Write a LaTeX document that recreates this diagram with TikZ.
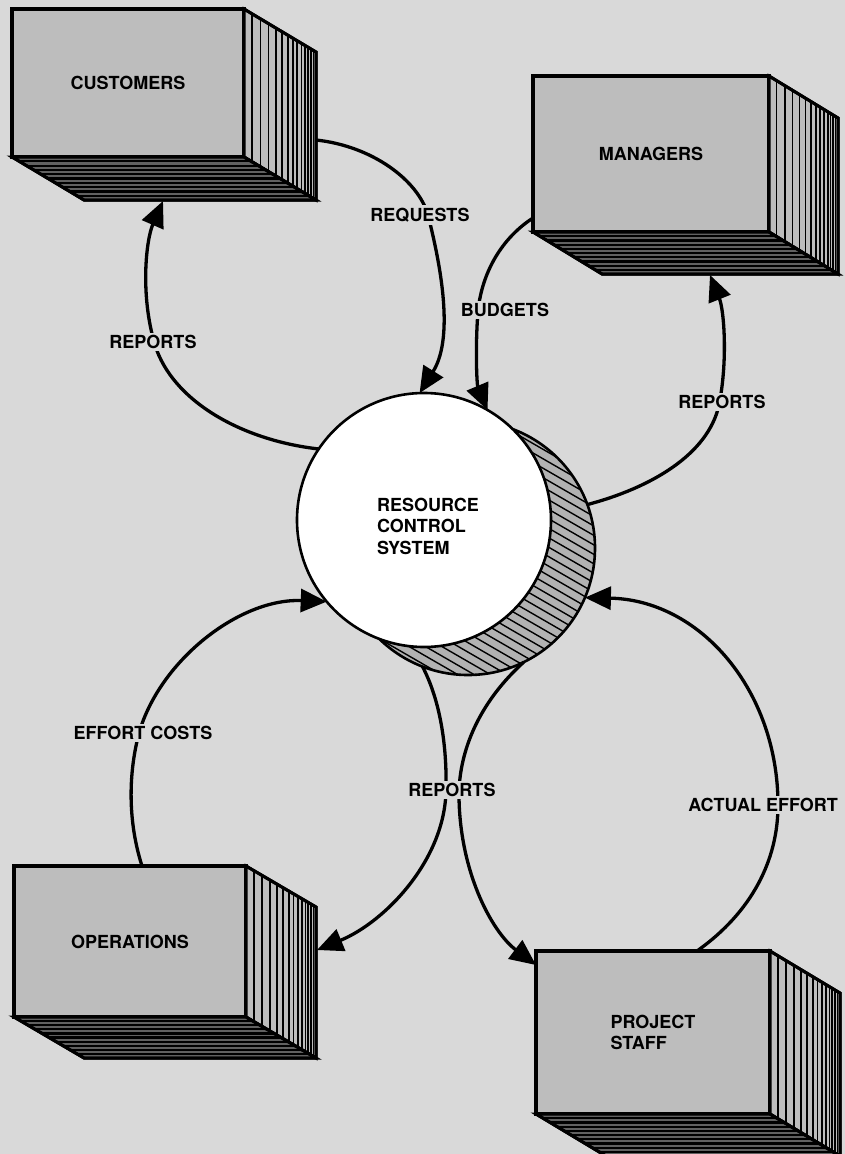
\documentclass[tikz,border=0pt]{standalone}
\usepackage{fontspec}
\setmainfont{TeX Gyre Heros}
\usetikzlibrary{arrows.meta,calc}
\definecolor{bgc}{gray}{0.85}
\definecolor{frontc}{gray}{0.74}
\definecolor{sidec}{gray}{0.74}
\definecolor{bottomc}{gray}{0.38}
\definecolor{cresc}{gray}{0.70}
\tikzset{
  entity/.style={draw, line width=3.2pt, fill=frontc, inner sep=0pt, outer sep=0pt,
    font=\bfseries\fontsize{18}{21.5}\selectfont, align=left},
  sideface/.style={draw, line width=3pt, fill=sidec, line join=miter},
  bottomface/.style={draw, line width=3pt, fill=bottomc, line join=miter},
  vstripe/.style={line width=1.7pt, black},
  hstripe/.style={line width=2.2pt, black},
  proc/.style={circle, draw, line width=2.6pt, fill=white, inner sep=0pt, outer sep=0pt,
    minimum size=254pt, font=\bfseries\fontsize{18}{21.5}\selectfont, align=left},
  shadowring/.style={circle, draw, line width=2.6pt, inner sep=0pt, outer sep=0pt, minimum size=254pt},
  flow/.style={line width=3.3pt, -{Triangle[length=26pt,width=23pt]}},
  flowlabel/.style={fill=bgc, inner sep=2.5pt, font=\bfseries\fontsize{18}{21.5}\selectfont}
}
\newcommand{\stackfaces}[3]{%
  \filldraw[sideface] (#1.north east) -- ++(#2,#3) -- ($(#1.south east)+(#2,#3)$) -- (#1.south east) -- cycle;
  \foreach \f in {0.11,0.23,0.34,0.44,0.53,0.61,0.68,0.74,0.80,0.85,0.89,0.93,0.965}
    \draw[vstripe] ($(#1.north east)+(\f*#2,\f*#3)$) -- ($(#1.south east)+(\f*#2,\f*#3)$);
  \filldraw[bottomface] (#1.south west) -- (#1.south east) -- ($(#1.south east)+(#2,#3)$) -- ($(#1.south west)+(#2,#3)$) -- cycle;
  \foreach \g in {0.1,0.2,0.3,0.4,0.5,0.6,0.7,0.8,0.9}
    \draw[hstripe] ($(#1.south west)+(\g*#2,\g*#3)$) -- ($(#1.south east)+(\g*#2,\g*#3)$);
  \draw[line width=3pt, line join=miter] (#1.south west) -- ++(#2,#3) -- ($(#1.south east)+(#2,#3)$) -- ($(#1.north east)+(#2,#3)$) -- (#1.north east);
  \draw[line width=3pt] (#1.south east) -- ++(#2,#3);
}
\begin{document}
\begin{tikzpicture}[x=1pt,y=-1pt]
\useasboundingbox (0,0) rectangle (845,1154);
\fill[bgc] (0,0) rectangle (845,1154);

% external entities
\node[entity, minimum width=232pt, minimum height=148pt] (cust) at (128,83) {CUSTOMERS};
\stackfaces{cust}{72}{43}
\node[entity, minimum width=236pt, minimum height=156pt] (mgr) at (651,154) {MANAGERS};
\stackfaces{mgr}{69}{42}
\node[entity, minimum width=232pt, minimum height=151pt] (ops) at (130,941.5) {OPERATIONS};
\stackfaces{ops}{70}{41}
\node[entity, minimum width=234pt, minimum height=163pt] (ps) at (653,1032.5) {PROJECT\\STAFF};
\stackfaces{ps}{70}{42}

% process with shadow crescent
\fill[cresc] (468,548) circle[radius=127];
\begin{scope}
  \clip (468,548) circle[radius=127];
  \foreach \k in {-24,...,24}
    \draw[line width=1.4pt] ($(468,548)+(\k*-4.1,\k*7.1)+(-260,-150)$) -- ($(468,548)+(\k*-4.1,\k*7.1)+(260,150)$);
\end{scope}
\node[shadowring] (shadow) at (468,548) {};
\node[proc] (rcs) at (424,520) {\raisebox{-10.5pt}[0pt][0pt]{\makebox[126pt][r]{\parbox{110pt}{\raggedright RESOURCE\\CONTROL\\SYSTEM}}}};

% connector end points on the entities
\coordinate (reqS) at ($(cust.north east)+(72,131)$);
\coordinate (custTip) at ($(cust.south west)+(151,44)$);
\coordinate (budS) at ($(mgr.north west)+(0,142)$);
\coordinate (mgrTip) at ($(mgr.south west)+(177,43)$);
\coordinate (opsS) at ($(ops.north west)+(128,0)$);
\coordinate (opsTip) at ($(ops.north east)+(71,84)$);
\coordinate (psTip) at ($(ps.north west)+(0,14)$);
\coordinate (psS) at ($(ps.north west)+(161,0)$);

% flows
\draw[flow] (reqS) .. controls (372,146) and (418,180) .. (428,215) .. controls (438,255) and (456,335) .. (rcs.92);
\draw[flow] (rcs.146) .. controls (240,440) and (172,400) .. (155,345) .. controls (140,295) and (146,240) .. (custTip);
\draw[flow] (budS) .. controls (502,238) and (482,272) .. (478,311) .. controls (475,350) and (477,385) .. (rcs.60);
\draw[flow] (shadow.20) .. controls (650,488) and (708,455) .. (719,405) .. controls (728,360) and (724,310) .. (mgrTip);
\draw[flow] (opsS) .. controls (128,822) and (128,775) .. (139,733) .. controls (160,660) and (240,598) .. (rcs.220);
\draw[flow] (shadow.249) .. controls (440,700) and (447,745) .. (446,790) .. controls (445,860) and (385,922) .. (opsTip);
\draw[flow] (shadow.296) .. controls (482,700) and (461,745) .. (459,790) .. controls (458,870) and (492,932) .. (psTip);
\draw[flow] (psS) .. controls (752,912) and (778,860) .. (778,805) .. controls (778,690) and (700,600) .. (shadow.337);

% labels
\node[flowlabel] (lreq) at (420,215) {REQUESTS};
\node[flowlabel] (lrepc) at (153,342) {REPORTS};
\node[flowlabel] (lbud) at (505,310) {BUDGETS};
\node[flowlabel] (lrepm) at (722,402) {REPORTS};
\node[flowlabel] (leff) at (143,733) {EFFORT COSTS};
\node[flowlabel] (lrepb) at (452,790) {REPORTS};
\node[flowlabel] (lact) at (763,805) {ACTUAL EFFORT};
\end{tikzpicture}
\end{document}
